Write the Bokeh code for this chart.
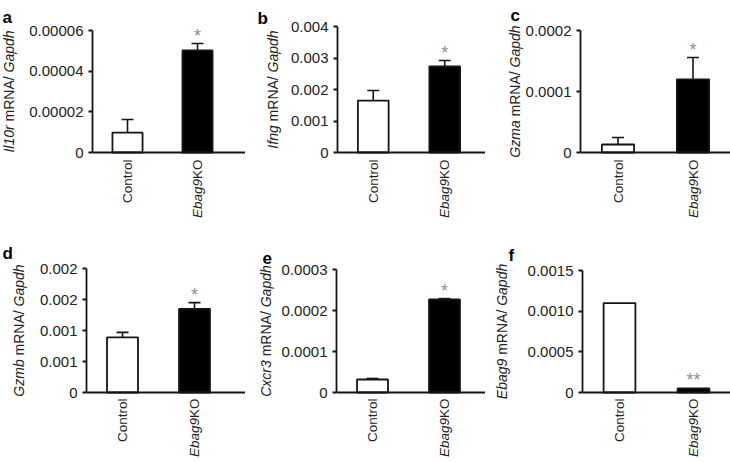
import math
from bokeh.plotting import figure
from bokeh.layouts import row, column
from bokeh.models import (Range1d, FixedTicker, Label, Whisker, ColumnDataSource, TeeHead,
                          LinearAxis)
from bokeh.embed import file_html
from bokeh.resources import INLINE

# ---------------- data ----------------
groups = ["Control", "Ebag9KO"]
letters = ["a", "b", "c", "d", "e", "f"]
genes = ["Il10r", "Ifng", "Gzma", "Gzmb", "Cxcr3", "Ebag9"]
marks = ["*", "*", "*", "*", "*", "**"]

il10r_mean = [0.0000098, 0.0000502]
il10r_err = [0.0000064, 0.0000034]
ifng_mean = [0.00165, 0.00273]
ifng_err = [0.00032, 0.00019]
gzma_mean = [0.0000131, 0.000120]
gzma_err = [0.0000115, 0.0000357]
gzmb_mean = [0.00089, 0.00135]
gzmb_err = [0.00008, 0.00010]
cxcr3_mean = [0.0000317, 0.000227]
cxcr3_err = [0.0000025, 0.000002]
ebag9_mean = [0.00110, 0.00005]
ebag9_err = [0.0, 0.0]

il10r_ticks = [0, 0.00002, 0.00004, 0.00006]
il10r_tick_labels = ["0", "0.00002", "0.00004", "0.00006"]
ifng_ticks = [0, 0.001, 0.002, 0.003, 0.004]
ifng_tick_labels = ["0", "0.001", "0.002", "0.003", "0.004"]
gzma_ticks = [0, 0.0001, 0.0002]
gzma_tick_labels = ["0", "0.0001", "0.0002"]
gzmb_ticks = [0, 0.0005, 0.001, 0.0015, 0.002]
gzmb_tick_labels = ["0", "0.001", "0.001", "0.002", "0.002"]
cxcr3_ticks = [0, 0.0001, 0.0002, 0.0003]
cxcr3_tick_labels = ["0", "0.0001", "0.0002", "0.0003"]
ebag9_ticks = [0, 0.0005, 0.001, 0.0015]
ebag9_tick_labels = ["0", "0.0005", "0.0010", "0.0015"]

means = [il10r_mean, ifng_mean, gzma_mean, gzmb_mean, cxcr3_mean, ebag9_mean]
errs = [il10r_err, ifng_err, gzma_err, gzmb_err, cxcr3_err, ebag9_err]
ticks = [il10r_ticks, ifng_ticks, gzma_ticks, gzmb_ticks, cxcr3_ticks, ebag9_ticks]
tick_labels = [il10r_tick_labels, ifng_tick_labels, gzma_tick_labels,
               gzmb_tick_labels, cxcr3_tick_labels, ebag9_tick_labels]

# ---------------- layout / style ----------------
FONT = "Liberation Sans"
TXT = "#222222"
LINE = "#151515"
# (width, height, axis_left, right_gap, top_gap, zero_from_bottom,
#  ylabel_cx, letter_x, letter_baseline, category_label_gap)
geom = [
    (245, 232, 92, 13, 30, 80, 8, 2, 17, 7),
    (240, 232, 92, 5, 26, 80, 27, 12, 18, 7),
    (245, 232, 95, 0, 30, 80, 29, 25, 15, 7),
    (245, 230, 86, 15, 36, 70, 18, 2, 21, 6),
    (240, 230, 91, 5, 37, 70, 20, 17, 25, 6),
    (245, 230, 97, 0, 38, 70, 16, 23, 23, 6),
]

CW = {' ': 278, '/': 278, '.': 278, 'A': 667, 'C': 722, 'E': 667, 'G': 778, 'I': 278,
      'K': 667, 'N': 722, 'O': 778, 'R': 722, 'a': 556, 'b': 556, 'c': 500, 'd': 556,
      'f': 278, 'g': 556, 'h': 556, 'l': 222, 'm': 833, 'n': 556, 'p': 556, 'r': 333,
      'x': 500, 'z': 500}


def tw(s, size):
    return sum(CW.get(ch, 556) for ch in s) / 1000.0 * size


# category slot centres (one unit per category, like a categorical scale)
gx = [k + 0.5 for k in range(len(groups))]
ncat = len(groups)


def make_panel(i):
    w, h, bl, br, bt, bb, ycx, lx, lby, cgap = geom[i]
    m, e = means[i], errs[i]
    top = ticks[i][-1]
    ux = (w - bl - br) / ncat          # px per category unit
    uy = (h - bb - bt) / top           # px per data unit
    p = figure(width=w, height=h,
               x_range=Range1d(-bl / ux, ncat + br / ux),
               y_range=Range1d(-bb / uy, top + bt / uy),
               x_axis_type=None, y_axis_type=None,
               output_backend="svg", toolbar_location=None,
               min_border=0, min_border_left=0, min_border_right=0,
               min_border_top=0, min_border_bottom=0)
    p.outline_line_color = None
    p.grid.visible = False
    p.background_fill_color = "white"
    p.border_fill_color = "white"

    src = ColumnDataSource(dict(x=gx, top=m, fill=["white", "black"]))
    p.vbar(x="x", top="top", width=0.43, source=src, fill_color="fill",
           line_color=LINE, line_width=1.8)

    if any(v > 0 for v in e):
        wsrc = ColumnDataSource(dict(base=gx, lower=m, upper=[a + b for a, b in zip(m, e)]))
        p.add_layout(Whisker(base="base", lower="lower", upper="upper", source=wsrc,
                             line_color=LINE, line_width=1.6, lower_head=None,
                             upper_head=TeeHead(size=12, line_color=LINE, line_width=1.6)))

    # significance mark above KO bar
    p.add_layout(Label(x=gx[1], y=m[1] + e[1], text=marks[i], text_align="center",
                       text_baseline="alphabetic", y_offset=8, text_color="#909090",
                       text_font=FONT, text_font_size="18px"))

    # axes (fixed inside the frame so the panel's texts can share the frame)
    yax = LinearAxis(fixed_location=0, bounds=(0, top), ticker=FixedTicker(ticks=ticks[i]))
    yax.major_label_overrides = {t: s for t, s in zip(ticks[i], tick_labels[i])}
    yax.major_label_text_font = FONT
    yax.major_label_text_font_size = "15px"
    yax.major_label_text_color = TXT
    yax.major_label_standoff = 5
    yax.major_tick_out = 4
    yax.major_tick_in = 0
    yax.minor_tick_out = 0
    yax.minor_tick_in = 0
    xax = LinearAxis(fixed_location=0, bounds=(0, ncat + br / ux),
                     ticker=FixedTicker(ticks=[]))
    xax.major_tick_out = 0
    xax.major_tick_in = 0
    xax.minor_tick_out = 0
    xax.minor_tick_in = 0
    for ax in (yax, xax):
        ax.axis_line_color = LINE
        ax.axis_line_width = 1.8
        ax.major_tick_line_color = LINE
        ax.major_tick_line_width = 1.8
    p.add_layout(yax, "left")
    p.add_layout(xax, "below")

    # category labels (rotated)
    fs = 13.5
    p.add_layout(Label(x=gx[0], y=0, y_offset=-cgap, text=groups[0], angle=math.pi / 2,
                       text_align="right", text_baseline="middle", text_font=FONT,
                       text_font_size=f"{fs}px", text_color=TXT))
    p.add_layout(Label(x=gx[1], y=0, y_offset=-cgap, text="KO", angle=math.pi / 2,
                       text_align="right", text_baseline="middle", text_font=FONT,
                       text_font_size=f"{fs}px", text_color=TXT))
    p.add_layout(Label(x=gx[1], y=0, y_offset=-cgap - tw("KO", fs), text="Ebag9",
                       angle=math.pi / 2, text_align="right", text_baseline="middle",
                       text_font=FONT, text_font_style="italic",
                       text_font_size=f"{fs}px", text_color=TXT))

    # y-axis title: italic gene, "mRNA/", italic Gapdh
    ls = 14
    pieces = [(genes[i], "italic"), ("mRNA/", "normal"), ("Gapdh", "italic")]
    sp = tw(" ", ls)
    total = sum(tw(t, ls) for t, _ in pieces) + 2 * sp
    off = -total / 2
    for t, st in pieces:
        p.add_layout(Label(x=ycx, x_units="screen", y=top / 2, y_units="data",
                           y_offset=off, text=t, angle=math.pi / 2, text_align="left",
                           text_baseline="middle", text_font=FONT, text_font_style=st,
                           text_font_size=f"{ls}px", text_color=TXT))
        off += tw(t, ls) + sp

    # panel letter
    p.add_layout(Label(x=lx, x_units="screen", y=h - lby, y_units="screen",
                       text=letters[i], text_align="left", text_baseline="alphabetic",
                       text_font=FONT, text_font_style="bold", text_font_size="17px",
                       text_color="black"))
    return p


panels = [make_panel(i) for i in range(6)]
layout = column(row(*panels[:3]), row(*panels[3:]))
open("out.html", "w").write(file_html(layout, INLINE))
